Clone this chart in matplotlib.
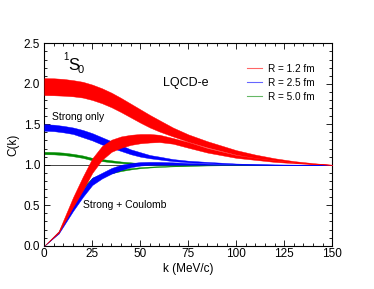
import numpy as np
import matplotlib
matplotlib.use("Agg")
import matplotlib.pyplot as plt
from matplotlib.lines import Line2D

plt.rcParams['font.family'] = ['Liberation Sans', 'DejaVu Sans']

# strong interaction only
k_strong = [0, 5, 10, 15, 20, 25, 30, 35, 40, 45, 50, 55, 60, 67, 75, 85, 100, 110, 120, 130, 140, 150]
red_s_hi = [2.07, 2.068, 2.06, 2.045, 2.025, 1.99, 1.945, 1.89, 1.825, 1.755, 1.685, 1.615, 1.55, 1.46, 1.375, 1.29, 1.18, 1.125, 1.08, 1.045, 1.02, 1.0]
red_s_lo = [1.86, 1.858, 1.853, 1.845, 1.83, 1.80, 1.76, 1.71, 1.65, 1.585, 1.52, 1.46, 1.41, 1.35, 1.285, 1.215, 1.125, 1.085, 1.055, 1.03, 1.01, 1.0]
blue_s_hi = [1.50, 1.495, 1.48, 1.46, 1.43, 1.39, 1.34, 1.29, 1.24, 1.19, 1.155, 1.12, 1.10, 1.07, 1.05, 1.035, 1.015, 1.008, 1.004, 1.002, 1.001, 1.0]
blue_s_lo = [1.42, 1.415, 1.40, 1.38, 1.34, 1.30, 1.25, 1.21, 1.17, 1.13, 1.10, 1.08, 1.065, 1.045, 1.03, 1.02, 1.006, 1.003, 1.001, 1.0, 1.0, 1.0]
green_s_hi = [1.16, 1.158, 1.15, 1.135, 1.115, 1.085, 1.07, 1.055, 1.04, 1.03, 1.02, 1.013, 1.009, 1.005, 1.003, 1.001, 1.0, 1.0, 1.0, 1.0, 1.0, 1.0]
green_s_lo = [1.13, 1.128, 1.12, 1.105, 1.085, 1.055, 1.045, 1.03, 1.02, 1.012, 1.006, 1.003, 1.001, 1.0, 0.999, 0.999, 1.0, 1.0, 1.0, 1.0, 1.0, 1.0]

# strong + Coulomb
k_coul = [0, 7.5, 15, 20, 25, 30, 35, 40, 45, 50, 55, 60, 67, 75, 85, 100, 110, 120, 130, 140, 150]
red_c_hi = [0, 0.18, 0.60, 0.85, 1.08, 1.23, 1.31, 1.35, 1.37, 1.38, 1.38, 1.37, 1.33, 1.28, 1.205, 1.12, 1.085, 1.055, 1.03, 1.012, 1.0]
red_c_lo = [0, 0.16, 0.48, 0.68, 0.90, 1.06, 1.16, 1.21, 1.245, 1.265, 1.275, 1.28, 1.26, 1.21, 1.15, 1.085, 1.06, 1.035, 1.02, 1.008, 1.0]
blue_c_hi = [0, 0.17, 0.49, 0.69, 0.84, 0.90, 0.96, 1.0, 1.02, 1.033, 1.036, 1.035, 1.03, 1.022, 1.014, 1.006, 1.003, 1.001, 1.0, 1.0, 1.0]
blue_c_lo = [0, 0.15, 0.43, 0.60, 0.75, 0.83, 0.89, 0.935, 0.97, 0.99, 0.998, 1.0, 1.0, 1.0, 1.0, 0.999, 0.999, 1.0, 1.0, 1.0, 1.0]
green_c_hi = [0, 0.175, 0.53, 0.72, 0.84, 0.885, 0.915, 0.94, 0.958, 0.97, 0.977, 0.983, 0.988, 0.992, 0.995, 0.998, 0.999, 1.0, 1.0, 1.0, 1.0]
green_c_lo = [0, 0.16, 0.51, 0.70, 0.82, 0.865, 0.895, 0.922, 0.942, 0.957, 0.966, 0.973, 0.98, 0.986, 0.991, 0.996, 0.998, 0.999, 1.0, 1.0, 1.0]

labels = ['R = 1.2 fm', 'R = 2.5 fm', 'R = 5.0 fm']
colors = ['#ff0000', '#0000ff', '#008a00']

fig = plt.figure(figsize=(3.74, 2.89), dpi=100)
ax = fig.add_axes([0.1184, 0.1498, 0.7701, 0.7003])

ax.axhline(1.0, color='#444444', lw=0.7, zorder=1)

ax.fill_between(k_strong, green_s_lo, green_s_hi, color=colors[2], lw=0.3, zorder=2)
ax.fill_between(k_coul, green_c_lo, green_c_hi, color=colors[2], lw=0.3, zorder=2)
ax.fill_between(k_strong, blue_s_lo, blue_s_hi, color=colors[1], lw=0.3, zorder=3)
ax.fill_between(k_coul, blue_c_lo, blue_c_hi, color=colors[1], lw=0.3, zorder=3)
ax.fill_between(k_strong, red_s_lo, red_s_hi, color=colors[0], lw=0.3, zorder=4)
ax.fill_between(k_coul, red_c_lo, red_c_hi, color=colors[0], lw=0.3, zorder=4)

ax.set_xlim(0, 150)
ax.set_ylim(0, 2.5)
ax.set_xticks([0, 25, 50, 75, 100, 125, 150])
ax.set_yticks([0, 0.5, 1.0, 1.5, 2.0, 2.5])
ax.set_yticklabels(['0.0', '0.5', '1.0', '1.5', '2.0', '2.5'])
ax.set_xticks(np.arange(0, 151, 5), minor=True)
ax.set_yticks(np.arange(0, 2.51, 0.1), minor=True)
ax.tick_params(which='both', direction='in', top=True, right=True, width=0.6, labelsize=8.5)
ax.tick_params(which='major', length=4)
ax.tick_params(which='minor', length=2)
ax.tick_params(axis='x', pad=2)
ax.tick_params(axis='y', pad=3)
for s in ax.spines.values():
    s.set_linewidth(0.8)

ax.set_xlabel('k (MeV/c)', fontsize=8.5, labelpad=1.5)
ax.set_ylabel('C(k)', fontsize=8.5, labelpad=3)

ax.text(12.3, 2.17, 'S', fontsize=12, ha='left', va='baseline')
ax.text(10.0, 2.30, '1', fontsize=7, ha='left', va='baseline')
ax.text(17.3, 2.13, '0', fontsize=8, ha='left', va='baseline')
ax.text(61.8, 2.01, 'LQCD-e', fontsize=9, ha='left', va='center')
ax.text(4, 1.59, 'Strong only', fontsize=7.5, ha='left', va='center')
ax.text(20.2, 0.50, 'Strong + Coulomb', fontsize=7.5, ha='left', va='center')

handles = [Line2D([], [], color=c, lw=0.8, alpha=0.6) for c in colors]
ax.legend(handles, labels, loc='upper left', bbox_to_anchor=(0.69, 0.92), frameon=False,
          fontsize=7.2, handlelength=1.5, handletextpad=0.6, labelspacing=0.4, borderaxespad=0)

fig.savefig('out.png', dpi=100)
